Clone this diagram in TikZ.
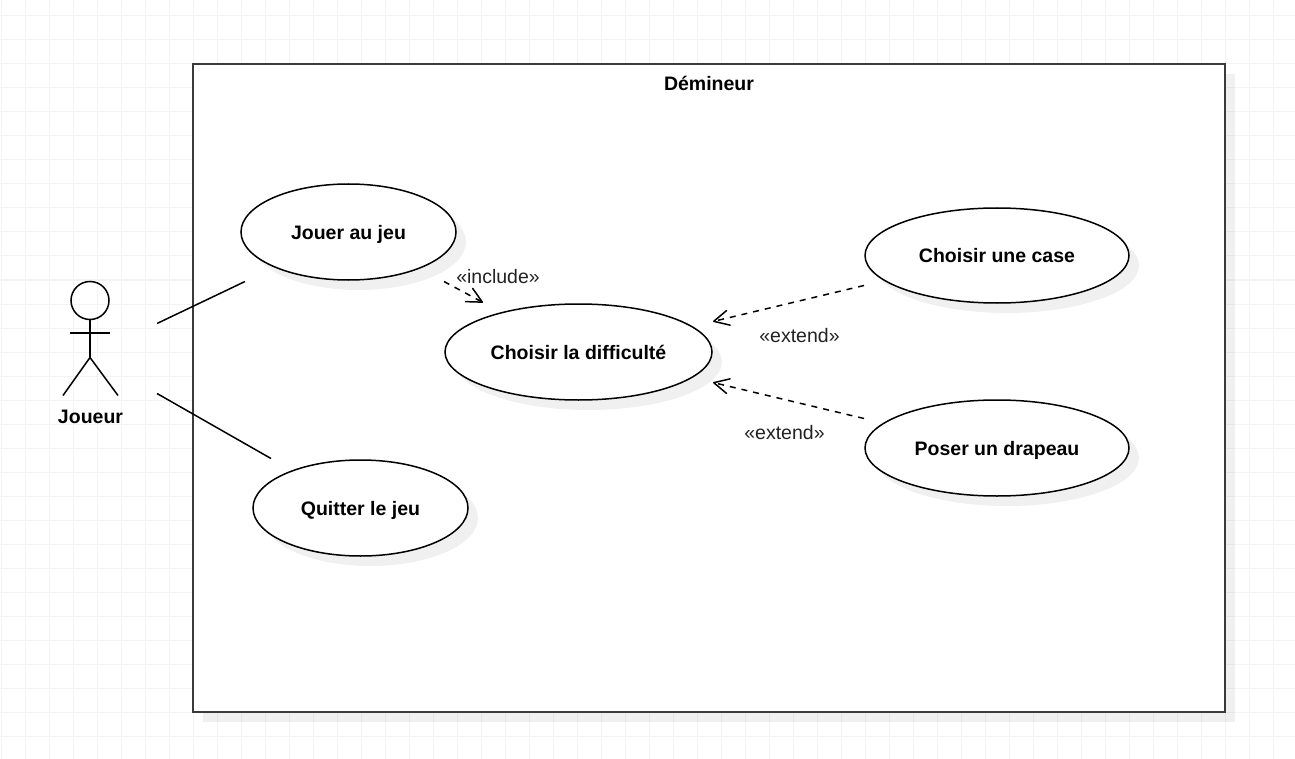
\documentclass[tikz,border=0pt]{standalone}
\usepackage{fontspec}
\setmainfont{Liberation Sans}
\usetikzlibrary{shapes.geometric,arrows.meta,shadows}
\definecolor{gridc}{HTML}{F3F3F3}
\definecolor{framec}{HTML}{3A3A3A}
\definecolor{labelc}{HTML}{222222}
\tikzset{
  softshadow/.style={general shadow={shadow xshift=10pt,shadow yshift=-10pt,fill=black,opacity=.06}},
  usecase/.style={shape=ellipse,draw=black,fill=white,line width=1.5pt,inner sep=0pt,outer sep=0pt,softshadow,font=\fontsize{19.5}{24}\selectfont\bfseries,text=black,text height=14pt,text depth=0pt},
  sysframe/.style={shape=rectangle,draw=framec,fill=white,line width=1.6pt,inner sep=0pt,outer sep=0pt,softshadow,minimum width=1032pt,minimum height=648pt},
  title/.style={font=\fontsize{19.5}{24}\selectfont\bfseries,text=black,inner sep=0pt},
  stereo/.style={font=\fontsize{19.5}{24}\selectfont,text=labelc,inner sep=0pt},
  assoc/.style={draw=black,line width=1.5pt},
  dep/.style={draw=black,line width=1.5pt,dash pattern=on 6pt off 6pt,-{Straight Barb[length=15pt,width=15pt,line width=1.5pt,round]}},
  actorline/.style={draw=black,line width=1.5pt},
}
\begin{document}
\begin{tikzpicture}[x=1pt,y=-1pt]
\useasboundingbox (0,0) rectangle (1295,759);
\fill[white] (0,0) rectangle (1295,759);
% background grid
\foreach \gx in {1,25,...,1295} {\draw[gridc,line width=1pt] (\gx,0) -- (\gx,759);}
\foreach \gy in {16,40,...,759} {\draw[gridc,line width=1pt] (0,\gy) -- (1295,\gy);}
% system frame
\node[sysframe] (system) at (709,388) {};
\node[title] (systitle) at (709,83) {Démineur};
% use cases
\node[usecase,minimum width=215pt,minimum height=96pt] (jouer) at (348.5,232) {\raisebox{-0.8pt}{Jouer au jeu}};
\node[usecase,minimum width=267pt,minimum height=96pt] (difficulte) at (578.5,352) {Choisir la difficulté};
\node[usecase,minimum width=264pt,minimum height=95pt] (case) at (997,255.5) {Choisir une case};
\node[usecase,minimum width=264pt,minimum height=96pt] (drapeau) at (997,448) {Poser un drapeau};
\node[usecase,minimum width=215pt,minimum height=96pt] (quitter) at (360.5,508) {Quitter le jeu};
% actor
\node[shape=circle,draw=black,line width=1.5pt,minimum size=38pt,inner sep=0pt,outer sep=0pt] (head) at (90,300.5) {};
\coordinate (hip) at (90,357.5);
\coordinate (armL) at (70,333);
\coordinate (armR) at (110,333);
\coordinate (legL) at (63,395.5);
\coordinate (legR) at (118,395.5);
\draw[actorline] (head.south) -- (hip);
\draw[actorline] (armL) -- (armR);
\draw[actorline] (legL) -- (hip) -- (legR);
\node[title] (joueur) at (90.5,417) {Joueur};
% association ends
\coordinate (a1) at (157,323.5);
\coordinate (a1e) at (245,281.5);
\coordinate (a2) at (157,393.5);
\coordinate (a2e) at (271,458.5);
\draw[assoc] (a1) -- (a1e);
\draw[assoc] (a2) -- (a2e);
% dependencies
\coordinate (incS) at (444,281.5);
\coordinate (incE) at (483,302.5);
\coordinate (ext1S) at (864,285.5);
\coordinate (ext1E) at (713,321.5);
\coordinate (ext2S) at (864,418.5);
\coordinate (ext2E) at (713,382.5);
\draw[dep] (incS) -- (incE);
\draw[dep] (ext1S) -- (ext1E);
\draw[dep] (ext2S) -- (ext2E);
\node[stereo] (linc) at (498,277) {«include»};
\node[stereo] (lext1) at (799.5,336) {«extend»};
\node[stereo] (lext2) at (784.5,433) {«extend»};
\end{tikzpicture}
\end{document}
